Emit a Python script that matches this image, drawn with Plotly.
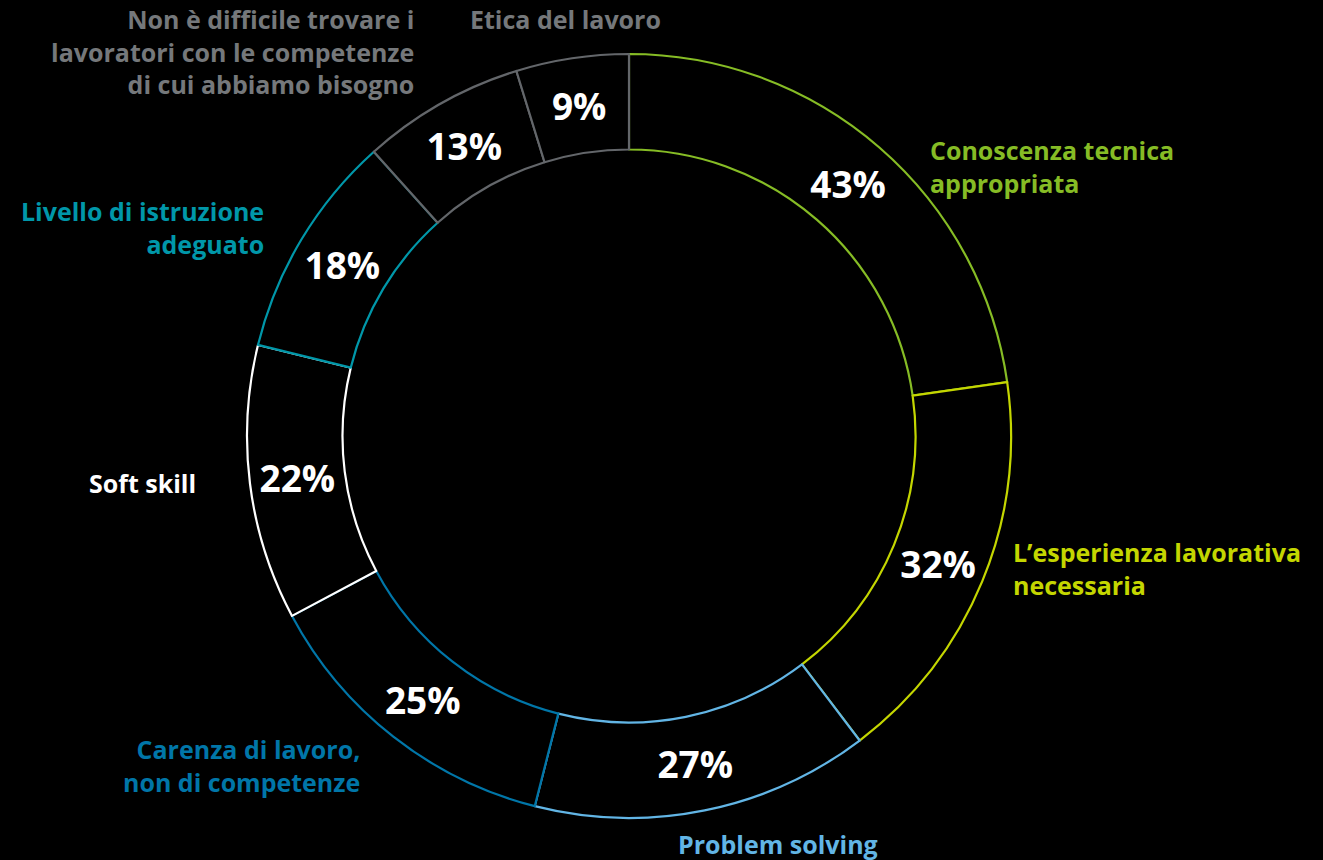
import plotly.graph_objects as go

# Survey answers: share of respondents per reason
categories = [
    "Conoscenza tecnica<br>appropriata",
    "L’esperienza lavorativa<br>necessaria",
    "Problem solving",
    "Carenza di lavoro,<br>non di competenze",
    "Soft skill",
    "Livello di istruzione<br>adeguato",
    "Non è difficile trovare i<br>lavoratori con le competenze<br>di cui abbiamo bisogno",
    "Etica del lavoro",
]
values = [43, 32, 27, 25, 22, 18, 13, 9]
line_colors = ["#86BC25", "#C4D600", "#62B5E5", "#0076A8", "#FFFFFF", "#0097A9", "#63666A", "#63666A"]
label_colors = ["#86BC25", "#C4D600", "#62B5E5", "#0076A8", "#FFFFFF", "#0097A9", "#75787B", "#75787B"]

W, H = 1323, 860
cx, cy, R = 629, 436, 382

# label placement (pixel anchor, horizontal anchor)
label_pos = [
    (928, 166, "left"),
    (1011, 568, "left"),
    (778, 844, "center"),
    (362, 765, "right"),
    (198, 483, "right"),
    (266, 228, "right"),
    (416, 51, "right"),
    (565, 19, "center"),
]

fig = go.Figure(
    go.Pie(
        labels=categories,
        values=values,
        sort=False,
        direction="clockwise",
        rotation=0,
        hole=0.75,
        marker=dict(colors=["#000000"] * len(values), line=dict(color=line_colors, width=2.2)),
        texttemplate="%{value}%",
        textposition="inside",
        insidetextorientation="horizontal",
        insidetextfont=dict(family="Open Sans", size=37, color="#FFFFFF", weight=700),
        hoverinfo="skip",
        showlegend=False,
        domain=dict(
            x=[(cx - R) / W, (cx + R) / W],
            y=[(H - cy - R) / H, (H - cy + R) / H],
        ),
    )
)

for text, color, (px, py, anchor) in zip(categories, label_colors, label_pos):
    fig.add_annotation(
        x=px / W, y=1 - py / H, xref="paper", yref="paper",
        text=text, showarrow=False,
        xanchor=anchor, yanchor="middle", align=anchor,
        font=dict(family="Open Sans", size=25, color=color, weight=700),
    )

fig.update_layout(
    width=W, height=H,
    margin=dict(l=0, r=0, t=0, b=0),
    paper_bgcolor="#000000",
    plot_bgcolor="#000000",
)

fig.write_html("out.html")
